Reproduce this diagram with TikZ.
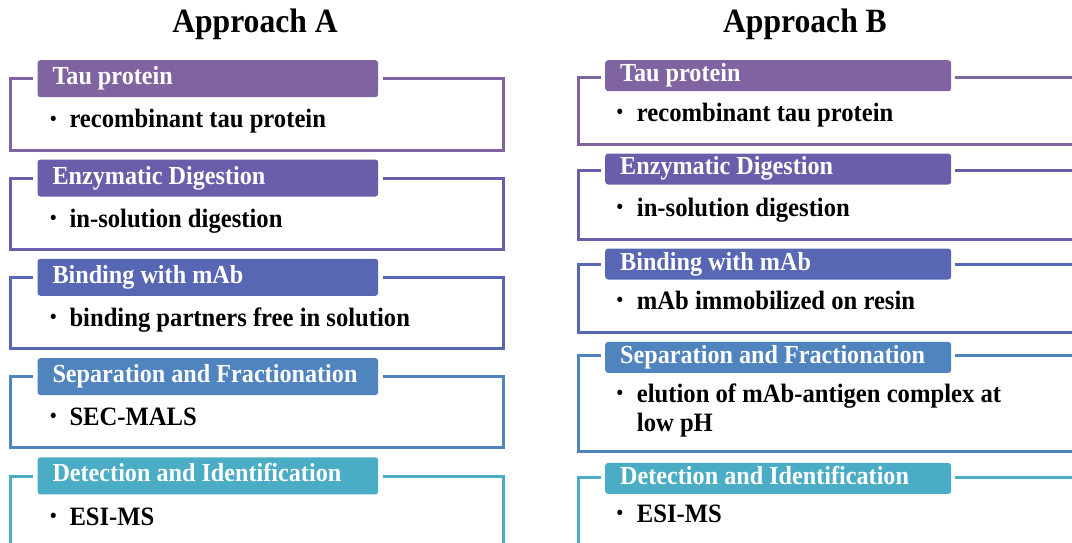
\documentclass[tikz,border=0pt]{standalone}
\usepackage{fontspec}
\setmainfont{Liberation Serif}[FakeStretch=0.93]
\definecolor{cA}{HTML}{8064A2}
\definecolor{cB}{HTML}{6A5DA9}
\definecolor{cC}{HTML}{5867B3}
\definecolor{cD}{HTML}{5084BF}
\definecolor{cE}{HTML}{4BACC6}
\newcommand\hdrtxt[2]{\makebox[#1][l]{#2}}
\begin{document}
\begin{tikzpicture}[x=1pt,y=-1pt,
  frame/.style={draw=#1, line width=3pt, fill=white},
  hdr/.style={fill=#1, rounded corners=3pt, text=white, anchor=north west,
    font=\fontsize{26}{28}\selectfont\bfseries, inner xsep=15pt, inner ysep=0pt,
    text height=18pt, text depth=6pt},
  hdrA/.style={hdr=#1, minimum height=37pt},
  hdrB/.style={hdr=#1, minimum height=31pt},
  body/.style={anchor=base west, inner sep=0pt, align=left,
    font=\fontsize{26.5}{29}\selectfont\bfseries},
  bul/.style={anchor=base, inner sep=0pt, font=\fontsize{20}{22}\selectfont\bfseries},
  ttl/.style={anchor=base, inner sep=0pt, font=\fontsize{34}{36}\selectfont\bfseries}]
\useasboundingbox (0,0) rectangle (1072,543);
\clip (0,0) rectangle (1072,543);
\fill[white] (0,0) rectangle (1072,543);

% titles
\node[ttl] (ttlA) at (255,33) {Approach A};
\node[ttl] (ttlB) at (805,33) {Approach B};

% ---------- Approach A ----------
% box 1
\draw[frame=cA] (10.5,79) rectangle (503.5,150);
\fill[white] (33.3,74) rectangle (382.7,84);
\node[hdrA=cA] (hA1) at (37.3,60) {\hdrtxt{310.7pt}{Tau protein}};
\node[bul] (bA1) at (53.3,125) {•};
\node[body] (tA1) at (69.3,128) {recombinant tau protein};
% box 2
\draw[frame=cB] (10.5,178.3) rectangle (503.5,249.3);
\fill[white] (33.3,173.3) rectangle (382.7,183.3);
\node[hdrA=cB] (hA2) at (37.3,159.3) {\hdrtxt{310.7pt}{Enzymatic Digestion}};
\node[bul] (bA2) at (53.3,224.3) {•};
\node[body] (tA2) at (69.3,227.3) {in-solution digestion};
% box 3
\draw[frame=cC] (10.5,277.6) rectangle (503.5,348.6);
\fill[white] (33.3,272.6) rectangle (382.7,282.6);
\node[hdrA=cC] (hA3) at (37.3,258.6) {\hdrtxt{310.7pt}{Binding with mAb}};
\node[bul] (bA3) at (53.3,323.6) {•};
\node[body] (tA3) at (69.3,326.6) {binding partners free in solution};
% box 4
\draw[frame=cD] (10.5,376.9) rectangle (503.5,447.9);
\fill[white] (33.3,371.9) rectangle (382.7,381.9);
\node[hdrA=cD] (hA4) at (37.3,357.9) {\hdrtxt{310.7pt}{Separation and Fractionation}};
\node[bul] (bA4) at (53.3,422.9) {•};
\node[body] (tA4) at (69.3,425.9) {SEC-MALS};
% box 5
\draw[frame=cE] (10.5,476.2) rectangle (503.5,560);
\fill[white] (33.3,471.2) rectangle (382.7,481.2);
\node[hdrA=cE] (hA5) at (37.3,457.2) {\hdrtxt{310.7pt}{Detection and Identification}};
\node[bul] (bA5) at (53.3,522.2) {•};
\node[body] (tA5) at (69.3,525.2) {ESI-MS};

% ---------- Approach B ----------
% box 1
\draw[frame=cA] (578,77.5) rectangle (1090,144);
\fill[white] (601,72.5) rectangle (955,82.5);
\node[hdrB=cA] (hB1) at (605,60) {\hdrtxt{316pt}{Tau protein}};
\node[bul] (bB1) at (620,118.7) {•};
\node[body] (tB1) at (636.7,121.7) {recombinant tau protein};
% box 2
\draw[frame=cB] (578,170) rectangle (1090,239);
\fill[white] (601,165) rectangle (955,175);
\node[hdrB=cB] (hB2) at (605,153.3) {\hdrtxt{316pt}{Enzymatic Digestion}};
\node[bul] (bB2) at (620,213) {•};
\node[body] (tB2) at (636.7,216) {in-solution digestion};
% box 3
\draw[frame=cC] (578,264) rectangle (1090,332.5);
\fill[white] (601,259) rectangle (955,269);
\node[hdrB=cC] (hB3) at (605,248.3) {\hdrtxt{316pt}{Binding with mAb}};
\node[bul] (bB3) at (620,306) {•};
\node[body] (tB3) at (636.7,309) {mAb immobilized on resin};
% box 4
\draw[frame=cD] (578,355) rectangle (1090,451);
\fill[white] (601,350) rectangle (955,360);
\node[hdrB=cD] (hB4) at (605,341.7) {\hdrtxt{316pt}{Separation and Fractionation}};
\node[bul] (bB4) at (620,399) {•};
\node[body] (tB4) at (636.7,431) {elution of mAb-antigen complex at\\low pH};
% box 5
\draw[frame=cE] (578,477) rectangle (1090,560);
\fill[white] (601,472) rectangle (955,482);
\node[hdrB=cE] (hB5) at (605,462.7) {\hdrtxt{316pt}{Detection and Identification}};
\node[bul] (bB5) at (620,519.7) {•};
\node[body] (tB5) at (636.7,522.7) {ESI-MS};
\end{tikzpicture}
\end{document}
